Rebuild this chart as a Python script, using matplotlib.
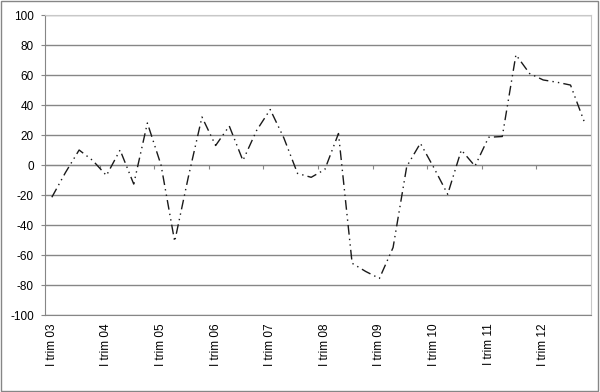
import numpy as np
import matplotlib
matplotlib.use("Agg")
import matplotlib.pyplot as plt
from matplotlib.patches import Rectangle

plt.rcParams['font.family'] = ['Liberation Sans', 'DejaVu Sans']

years = ['03', '04', '05', '06', '07', '08', '09', '10', '11', '12']
quarters = ['I', 'II', 'III', 'IV']
categories = [q + ' trim ' + y for y in years for q in quarters]
values = [-21.5, -5, 10, 3, -7, 10, -12.7, 28, 0, -51,
          -8, 32, 13, 26, 3, 23, 37, 18, -5.6, -8.2,
          -3, 21, -65.5, -71, -75.6, -55, -1, 14.5, -2, -19.5,
          10, -0.7, 18.5, 19, 73.5, 61, 56.7, 55.2, 53.3, 29]
y_ticks = list(range(-100, 101, 20))

grey = '#868686'

fig = plt.figure(figsize=(6, 3.92), dpi=100)
ax = fig.add_axes([0.075, 0.1964, 0.91, 0.7653])

x = np.arange(len(categories))
ax.plot(x, values, color='#1a1a1a', lw=1.0, dashes=(7, 3, 1, 3, 1, 3))

ax.set_xlim(-0.5, len(categories) - 0.5)
ax.set_ylim(-100, 100)
ax.set_yticks(y_ticks)
ax.set_yticklabels([str(v) for v in y_ticks], fontsize=8.5)
ax.yaxis.grid(True, color=grey, lw=1)
ax.set_axisbelow(True)

# category labels every 4 quarters, at the bottom
ax.set_xticks(x[::4])
ax.set_xticklabels([categories[i] for i in x[::4]], rotation=90, fontsize=8.5, va='top')
ax.tick_params(axis='x', length=0, pad=6)
ax.tick_params(axis='y', length=3, color=grey, pad=5, direction='out')

for s in ['top', 'right']:
    ax.spines[s].set_color('#c8c8c8')
for s in ['left', 'bottom']:
    ax.spines[s].set_color(grey)

# category axis crossing at 0, with tick marks between groups of 4
sec = ax.secondary_xaxis(0.5)
sec.set_xticks(np.arange(3.5, len(categories) - 1, 4))
sec.set_xticklabels([])
sec.tick_params(length=3, color=grey, direction='in')
for s in sec.spines.values():
    s.set_color(grey)

fig.patches.append(Rectangle((0.001, 0.002), 0.996, 0.995, transform=fig.transFigure,
                             fill=False, edgecolor=grey, lw=1))

fig.savefig('out.png', dpi=100)
